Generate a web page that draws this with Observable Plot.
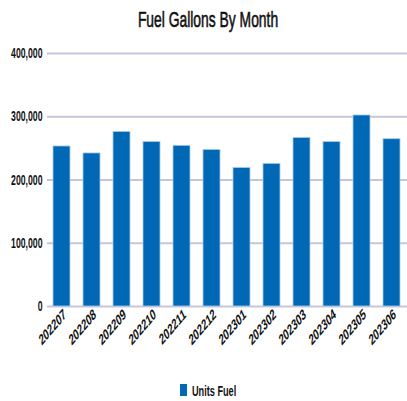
<!DOCTYPE html>
<html>
<head>
<meta charset="utf-8">
<script src="https://cdn.jsdelivr.net/npm/d3@7"></script>
<script src="https://cdn.jsdelivr.net/npm/@observablehq/plot@0.6"></script>
<style>
  html, body { margin: 0; padding: 0; background: #fff; }
  body { width: 407px; height: 401px; overflow: hidden; font-family: "Liberation Sans", Arial, sans-serif; color: #111; }
  #title { height: 36px; position: relative; }
  #title span { position: absolute; left: 207.5px; top: 20px; transform: translate(-50%, -50%) scaleX(0.63); white-space: nowrap; font-size: 22px; font-weight: normal; -webkit-text-stroke: 0.6px #111; }
  #legend { height: 45px; position: relative; }
  #legend .sw { position: absolute; left: 180px; top: 28px; width: 7px; height: 12px; background: #0068b4; }
  #legend .lb { position: absolute; left: 192px; top: 34px; transform-origin: 0 50%; transform: translateY(-50%) scaleX(0.61); white-space: nowrap; font-size: 15px; font-weight: bold; }
  svg { display: block; }
</style>
</head>
<body>
<div id="title"><span>Fuel Gallons By Month</span></div>
<div id="chart"></div>
<div id="legend"><span class="sw"></span><span class="lb">Units Fuel</span></div>
<script>
const months = ["202207","202208","202209","202210","202211","202212","202301","202302","202303","202304","202305","202306"];
const gallons = [253000, 242000, 276000, 260000, 254000, 247500, 219000, 225500, 266500, 260000, 302000, 264500];
const yTicks = [0, 100000, 200000, 300000, 400000];
const seriesName = "Units Fuel";

const data = months.map((m, i) => ({month: m, value: gallons[i], series: seriesName}));

const chart = Plot.plot({
  width: 407,
  height: 320,
  marginTop: 17,
  marginBottom: 50,
  marginLeft: 47,
  marginRight: 0,
  style: {fontFamily: '"Liberation Sans", Arial, sans-serif', fontSize: "14px", fontWeight: "bold", color: "#111", background: "#fff"},
  x: {domain: months, paddingInner: 0.43, paddingOuter: 0.215, label: null},
  y: {domain: [0, 400000], label: null},
  marks: [
    Plot.ruleY(yTicks, {stroke: "#c9c5d9", strokeWidth: 2}),
    Plot.barY(data, {x: "month", y: "value", fill: "#0068b4", stroke: "#a8cbe8", strokeWidth: 0.8}),
    Plot.axisY(yTicks, {tickSize: 0, tickPadding: 5, tickFormat: d3.format(","), fontSize: 14.5, label: null}),
    Plot.axisX({tickSize: 0, tickPadding: 6, dx: 3, tickRotate: -36, fontSize: 15, label: null})
  ]
});
// horizontal squeeze of the tick labels, as in the reference rendering
chart.querySelectorAll('g[aria-label="y-axis tick label"] text').forEach(t => {
  const tr = t.getAttribute("transform") || "";
  t.setAttribute("transform", tr + " scale(0.6,1)");
});
chart.querySelectorAll('g[aria-label="x-axis tick label"] text').forEach(t => {
  const tr = t.getAttribute("transform") || "";
  if (tr.includes("rotate")) t.setAttribute("transform", tr.replace("rotate", "scale(0.62,1) rotate"));
  else t.setAttribute("transform", tr + " scale(0.62,1)");
});
document.getElementById("chart").appendChild(chart);
</script>
</body>
</html>
